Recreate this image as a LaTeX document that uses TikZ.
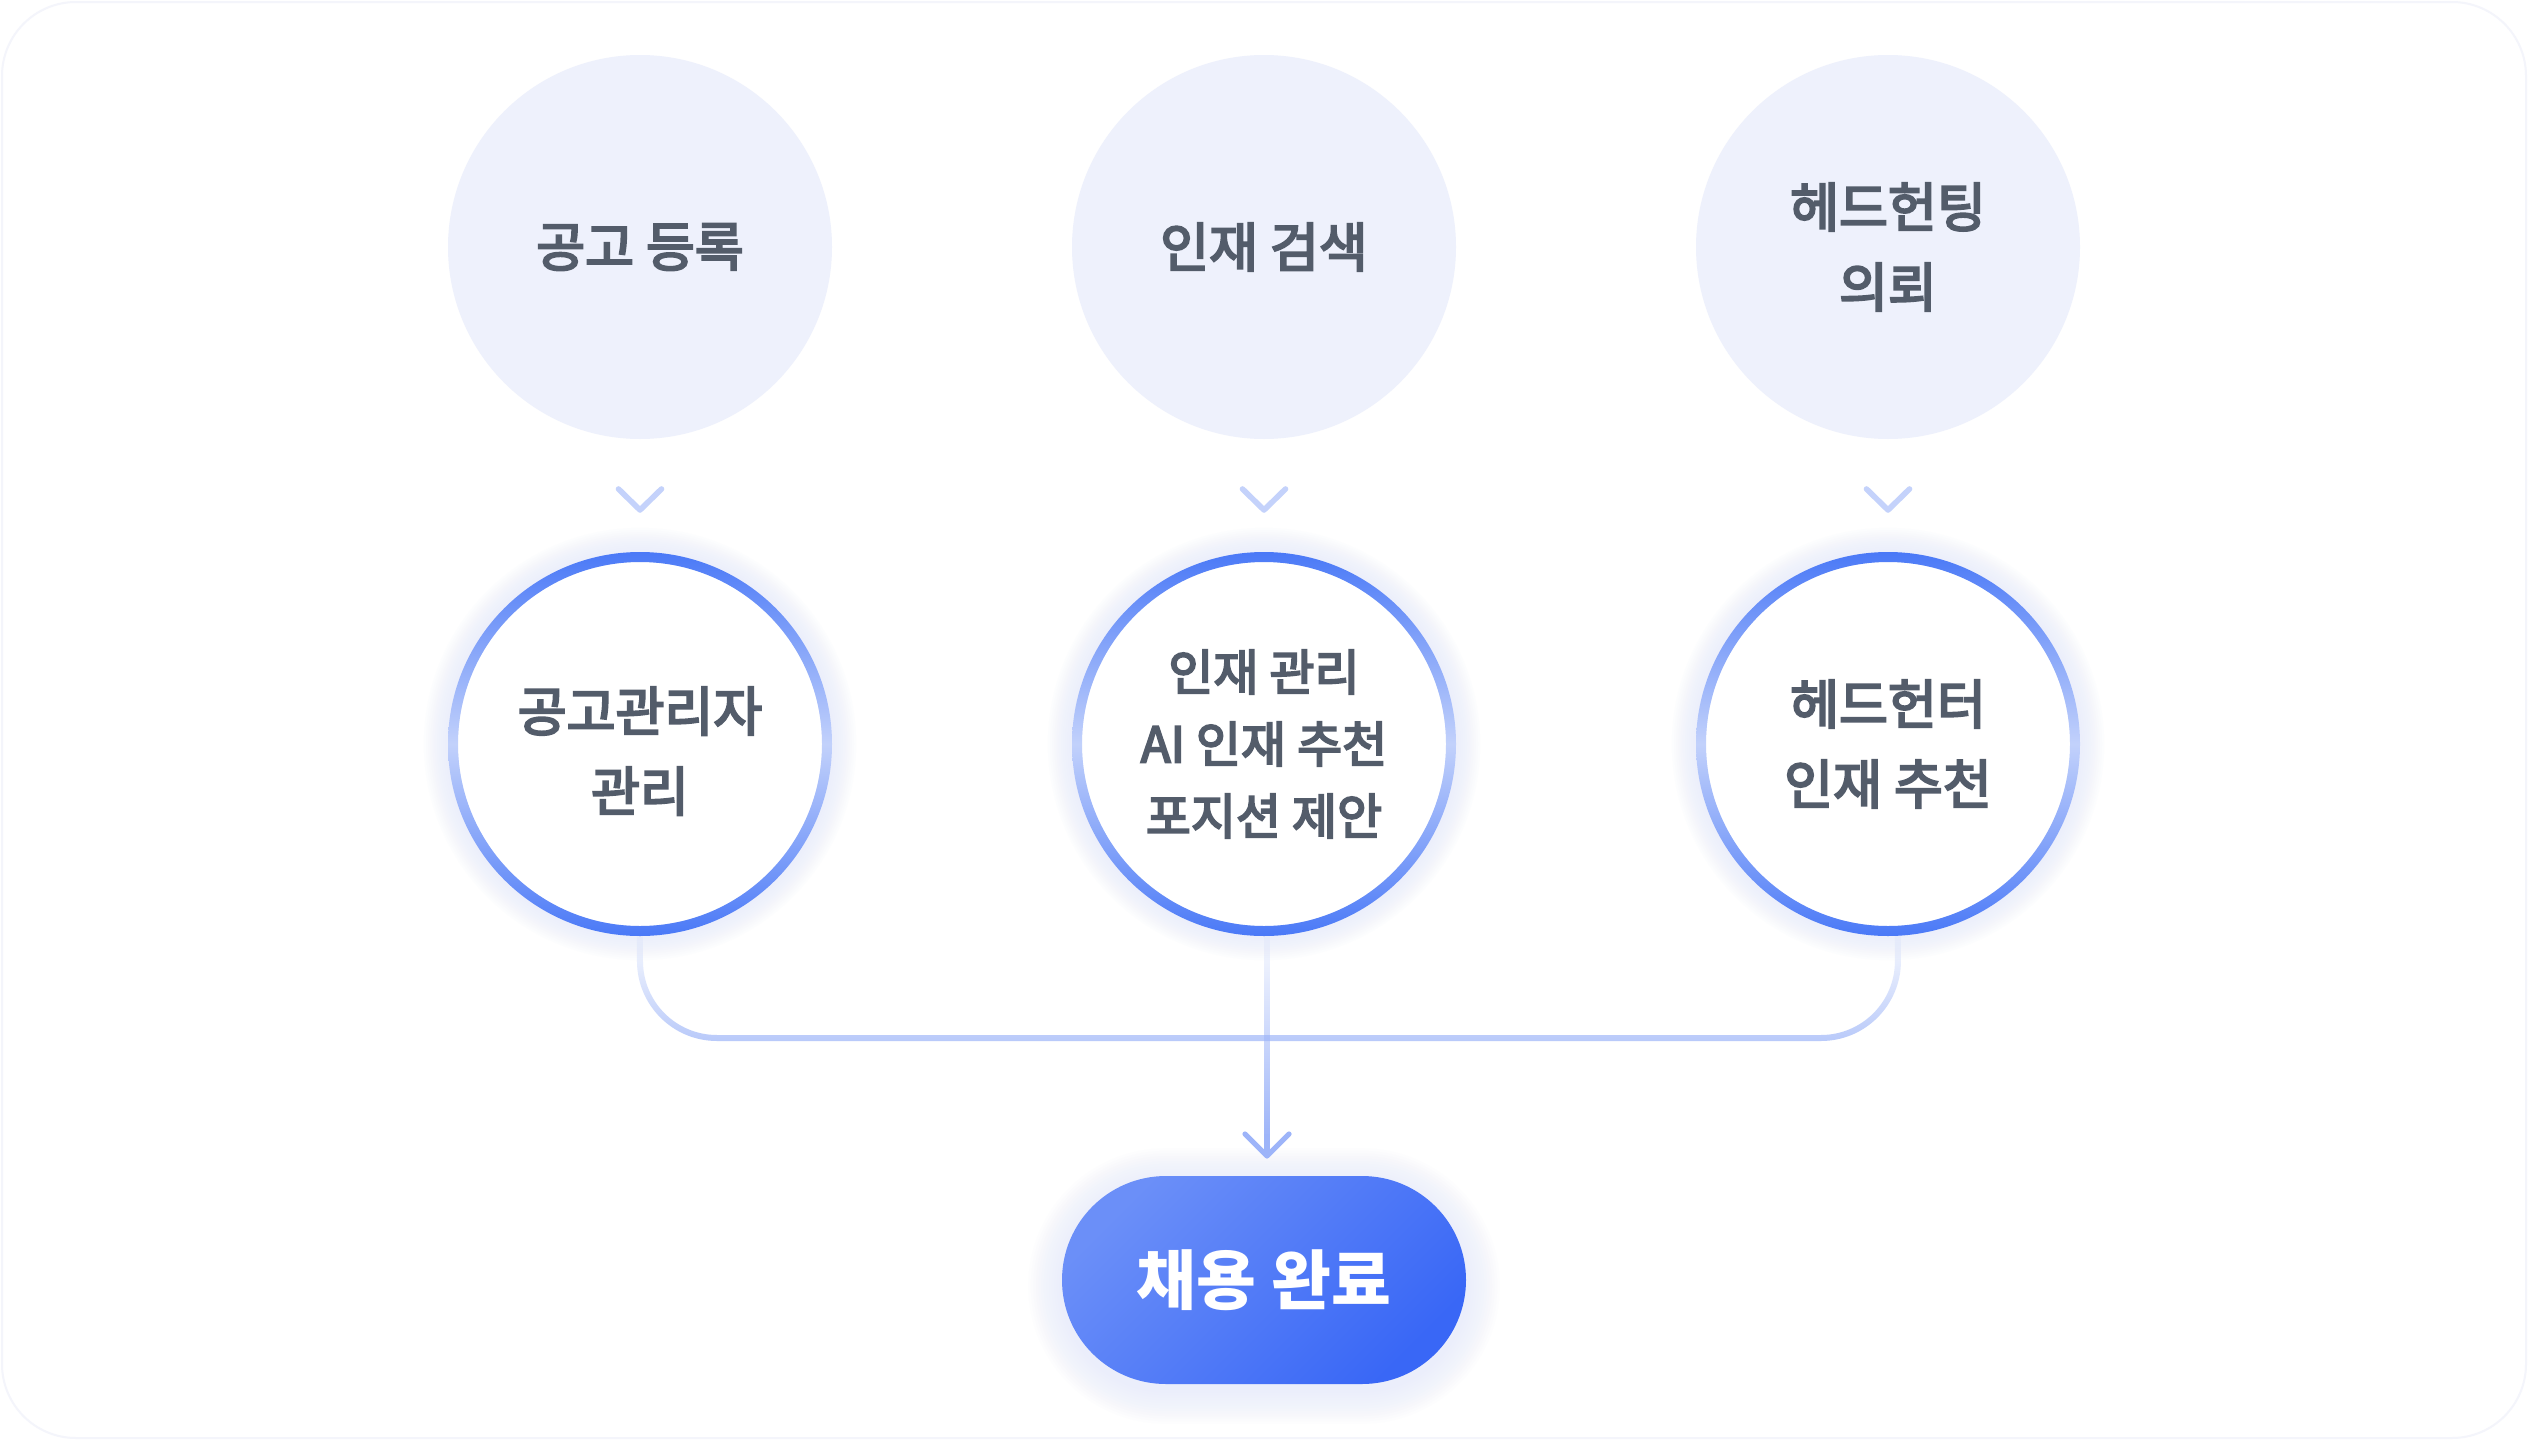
\documentclass[tikz,border=0pt]{standalone}
\usepackage{fontspec}
\setmainfont{Noto Sans CJK KR}
\newfontfamily\krmed{Noto Sans CJK KR}[AutoFakeBold=4]
\usetikzlibrary{arrows.meta,fadings,calc}
\definecolor{topfill}{HTML}{EEF1FC}
\definecolor{txtgray}{HTML}{535C6A}
\definecolor{ringblue}{HTML}{4A79F7}
\definecolor{ringlight}{HTML}{C2D1FB}
\definecolor{halo}{HTML}{E3E8FB}
\definecolor{chevc}{HTML}{C4D2FB}
\definecolor{connc}{HTML}{B9CAFA}
\definecolor{arrc}{HTML}{9DB4F9}
\definecolor{pilltop}{HTML}{6B8FF8}
\definecolor{pillbot}{HTML}{3967F6}
\definecolor{cardc}{HTML}{F4F5FB}
\begin{document}
\begin{tikzpicture}[x=0.5pt,y=-0.5pt,
  topc/.style={circle, fill=topfill, minimum size=192pt, inner sep=0pt, text=txtgray, align=center,
    font=\krmed\fontsize{26.6}{40}\selectfont\bfseries},
  midc/.style={circle, fill=white, minimum size=182pt, inner sep=0pt, text=txtgray, align=center,
    font=\krmed\fontsize{26.6}{40}\selectfont\bfseries},
  midsmall/.style={font=\krmed\fontsize{24.5}{36}\selectfont\bfseries},
  chev/.style={draw=chevc, line width=2.8pt, line cap=round, line join=round},
  conn/.style={draw=connc, line width=3pt, rounded corners=38.5pt, path fading=north},
  connline/.style={draw=arrc, line width=2.6pt, path fading=north},
  arrowtip/.style={draw=arrc, line width=2.6pt, -{Straight Barb[length=11pt,width=22pt,round]}},
  pill/.style={rectangle, rounded corners=52pt, minimum width=202pt, minimum height=104pt, inner sep=0pt,
    top color=pilltop, bottom color=pillbot, shading angle=45, text=white,
    font=\fontsize{32.5}{40}\selectfont\bfseries},
  ring/.style={even odd rule, top color=ringblue, bottom color=ringblue, middle color=ringlight}
]
\useasboundingbox (0,0) rectangle (2528,1440);
\fill[white] (0,0) rectangle (2528,1440);
\draw[cardc, line width=1pt, rounded corners=37pt] (2,2) rectangle (2526,1438);

% centres
\coordinate (c1) at (640,744);
\coordinate (c2) at (1264,744);
\coordinate (c3) at (1888,744);

% halos
\foreach \c in {c1,c2,c3}{
  \foreach \r in {1,...,11}{
    \fill[halo, opacity=0.075] (\c) circle[radius={96pt+\r*1.1pt}];
  }
}
\foreach \r in {1,...,13}{
  \fill[halo, opacity=0.065, rounded corners={52pt+\r*1.3pt}]
    ({1062-\r*2.6},{1182-\r*2.6}) rectangle ({1466+\r*2.6},{1390+\r*2.6});
}

% top circles
\node[topc] (t1) at (640,247) {공고 등록};
\node[topc] (t2) at (1264,247) {인재 검색};
\node[topc] (t3) at (1888,247) {헤드헌팅\\의뢰};

% middle circles
\node[midc] (m1) at (c1) {\raisebox{0pt}[\dimexpr\height+11pt\relax][\depth]{\begin{tabular}{@{}c@{}}공고관리자\\[0pt]관리\end{tabular}}};
\node[midc, midsmall] (m2) at (c2) {인재 관리\\AI 인재 추천\\포지션 제안};
\node[midc] (m3) at (c3) {헤드헌터\\인재 추천};

% final pill
\node[pill] (done) at (1264,1280) {채용 완료};

% chevrons
\foreach \i in {1,2,3}{
  \coordinate (cv\i) at ($(t\i.south)!0.5!(m\i.north)$);
  \draw[chev] ([shift={(-21.5,-11.5)}]cv\i) -- ++(21.5,21) -- ++(21.5,-21);
}

% connectors
\coordinate (join) at (1267,1038);
\draw[conn] (m1.south) |- (join);
\draw[conn] ([xshift=5pt]m3.south) |- (join);
\draw[connline] ([xshift=1.5pt]m2.south) -- ([xshift=1.5pt,yshift=20pt]done.north);
\draw[arrowtip] ([xshift=1.5pt,yshift=21pt]done.north) -- ([xshift=1.5pt,yshift=8.5pt]done.north);

% rings on top
\foreach \c in {c1,c2,c3}{
  \shade[ring] (\c) circle[radius=96pt] (\c) circle[radius=91pt];
}
\end{tikzpicture}
\end{document}
